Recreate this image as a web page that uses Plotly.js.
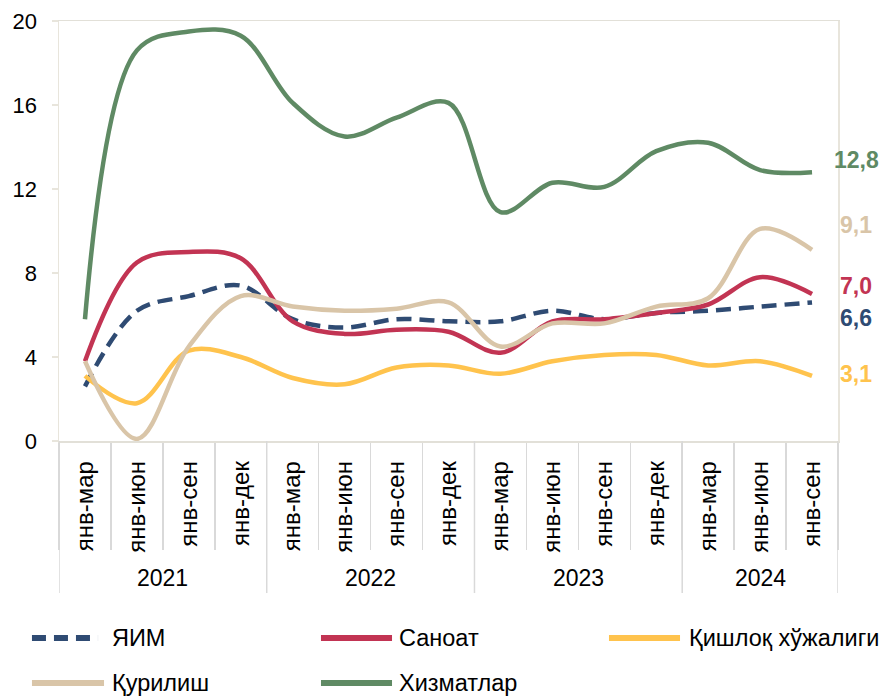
<!DOCTYPE html>
<html>
<head>
<meta charset="utf-8">
<script src="https://cdn.plot.ly/plotly-3.0.1.min.js"></script>
<style>
  html, body { margin: 0; padding: 0; background: #ffffff; }
  #chart { width: 881px; height: 697px; }
</style>
</head>
<body>
<div id="chart"></div>
<script>
// ---- data ----
var periods = ['янв-мар','янв-июн','янв-сен','янв-дек',
               'янв-мар','янв-июн','янв-сен','янв-дек',
               'янв-мар','янв-июн','янв-сен','янв-дек',
               'янв-мар','янв-июн','янв-сен'];
var years = ['2021','2022','2023','2024'];
var yearCounts = [4, 4, 4, 3];

var seriesNames = ['ЯИМ','Саноат','Қишлоқ хўжалиги','Қурилиш','Хизматлар'];
var yim      = [2.6, 6.2, 6.9, 7.4, 5.8, 5.4, 5.8, 5.7, 5.7, 6.2, 5.8, 6.1, 6.2, 6.4, 6.6];
var sanoat   = [3.8, 8.5, 9.0, 8.7, 5.7, 5.1, 5.3, 5.2, 4.2, 5.7, 5.8, 6.1, 6.5, 7.8, 7.0];
var qishloq  = [3.1, 1.8, 4.3, 4.0, 3.0, 2.7, 3.5, 3.6, 3.2, 3.8, 4.1, 4.1, 3.6, 3.8, 3.1];
var qurilish = [3.8, 0.1, 4.5, 6.9, 6.4, 6.2, 6.3, 6.6, 4.5, 5.6, 5.6, 6.4, 6.8, 10.1, 9.1];
var xizmat   = [5.8, 18.6, 19.5, 19.3, 16.1, 14.5, 15.4, 16.1, 10.9, 12.3, 12.1, 13.8, 14.2, 12.9, 12.8];
var seriesData = [yim, sanoat, qishloq, qurilish, xizmat];

// ---- styles ----
var colors = ['#2F4B73', '#C23453', '#FFC34D', '#D9C5A8', '#5F8A64'];
var dashes = ['15px,8px', 'solid', 'solid', 'solid', 'solid'];
var endShift = [-16, 8, 2, 25, 12];
var FONT = 'Liberation Sans, Arial, sans-serif';

var idx = periods.map(function (_, i) { return i; });

var traces = seriesData.map(function (vals, k) {
  return {
    x: idx, y: vals, name: seriesNames[k], type: 'scatter', mode: 'lines',
    line: { color: colors[k], width: 4.5, shape: 'spline', smoothing: 1, dash: dashes[k] },
    showlegend: false, hoverinfo: 'skip'
  };
});

var annotations = [];
var shapes = [];

// end value labels
seriesData.forEach(function (vals, k) {
  var last = vals.length - 1;
  annotations.push({
    x: last, y: vals[last], xref: 'x', yref: 'y',
    text: vals[last].toFixed(1).replace('.', ','),
    showarrow: false, xanchor: 'center', yanchor: 'middle',
    xshift: 44, yshift: endShift[k],
    font: { family: FONT, size: 23, color: colors[k], weight: 'bold' }
  });
});

// year labels and dividers
var start = 0;
shapes.push({ type: 'line', xref: 'x', yref: 'paper', x0: -0.5, x1: -0.5, y0: 0, y1: -0.362,
              line: { color: '#d9d9d9', width: 1.5 } });
years.forEach(function (yr, j) {
  var n = yearCounts[j];
  annotations.push({
    x: start + (n - 1) / 2, y: -0.326, xref: 'x', yref: 'paper',
    text: yr, showarrow: false, xanchor: 'center', yanchor: 'middle',
    font: { family: FONT, size: 23, color: '#000000' }
  });
  start += n;
  shapes.push({ type: 'line', xref: 'x', yref: 'paper', x0: start - 0.5, x1: start - 0.5, y0: 0, y1: -0.362,
                line: { color: '#d9d9d9', width: 1.5 } });
});

// custom legend
var legPos = [
  { sx0: -0.0347, sx1: 0.0501, tx: 0.0655, y: -0.469 },
  { sx0: 0.3363, sx1: 0.4275, tx: 0.4339, y: -0.469 },
  { sx0: 0.7060, sx1: 0.7972, tx: 0.8062, y: -0.469 },
  { sx0: -0.0347, sx1: 0.0578, tx: 0.0655, y: -0.576 },
  { sx0: 0.3363, sx1: 0.4275, tx: 0.4339, y: -0.576 }
];
seriesNames.forEach(function (nm, k) {
  var p = legPos[k];
  shapes.push({ type: 'line', xref: 'paper', yref: 'paper', x0: p.sx0, x1: p.sx1, y0: p.y, y1: p.y,
                line: { color: colors[k], width: 6, dash: k === 0 ? '14px,8px' : 'solid' } });
  annotations.push({
    x: p.tx, y: p.y, xref: 'paper', yref: 'paper', text: nm, showarrow: false,
    xanchor: 'left', yanchor: 'middle',
    font: { family: FONT, size: 23.5, color: '#000000' }
  });
});

var layout = {
  width: 881, height: 697,
  margin: { l: 59, r: 43, t: 21, b: 256, pad: 0 },
  paper_bgcolor: '#ffffff', plot_bgcolor: '#ffffff',
  showlegend: false,
  font: { family: FONT, size: 22, color: '#000000' },
  xaxis: {
    type: 'linear', range: [-0.5, 14.5], fixedrange: true,
    tickmode: 'array', tickvals: idx, ticktext: periods, tickangle: -90,
    ticks: '', ticklabelstandoff: 9,
    tickfont: { family: FONT, size: 24, color: '#000000' },
    showgrid: false, zeroline: false,
    showline: true, linecolor: '#e2e0d8', linewidth: 1.5, mirror: true,
    minor: { tickmode: 'linear', tick0: -0.5, dtick: 1, ticks: 'outside', ticklen: 107,
             tickcolor: '#d9d9d9', tickwidth: 1.5, showgrid: false }
  },
  yaxis: {
    range: [0, 20], tickmode: 'linear', tick0: 0, dtick: 4, fixedrange: true,
    ticks: 'outside', ticklen: 6, tickcolor: '#e8e5dc', tickwidth: 1.5,
    ticklabelstandoff: 10,
    tickfont: { family: FONT, size: 22, color: '#000000' },
    showgrid: false, zeroline: false,
    showline: true, linecolor: '#e8e5dc', linewidth: 1.5, mirror: true
  },
  annotations: annotations,
  shapes: shapes
};

Plotly.newPlot('chart', traces, layout, { displayModeBar: false, staticPlot: true });
</script>
</body>
</html>
